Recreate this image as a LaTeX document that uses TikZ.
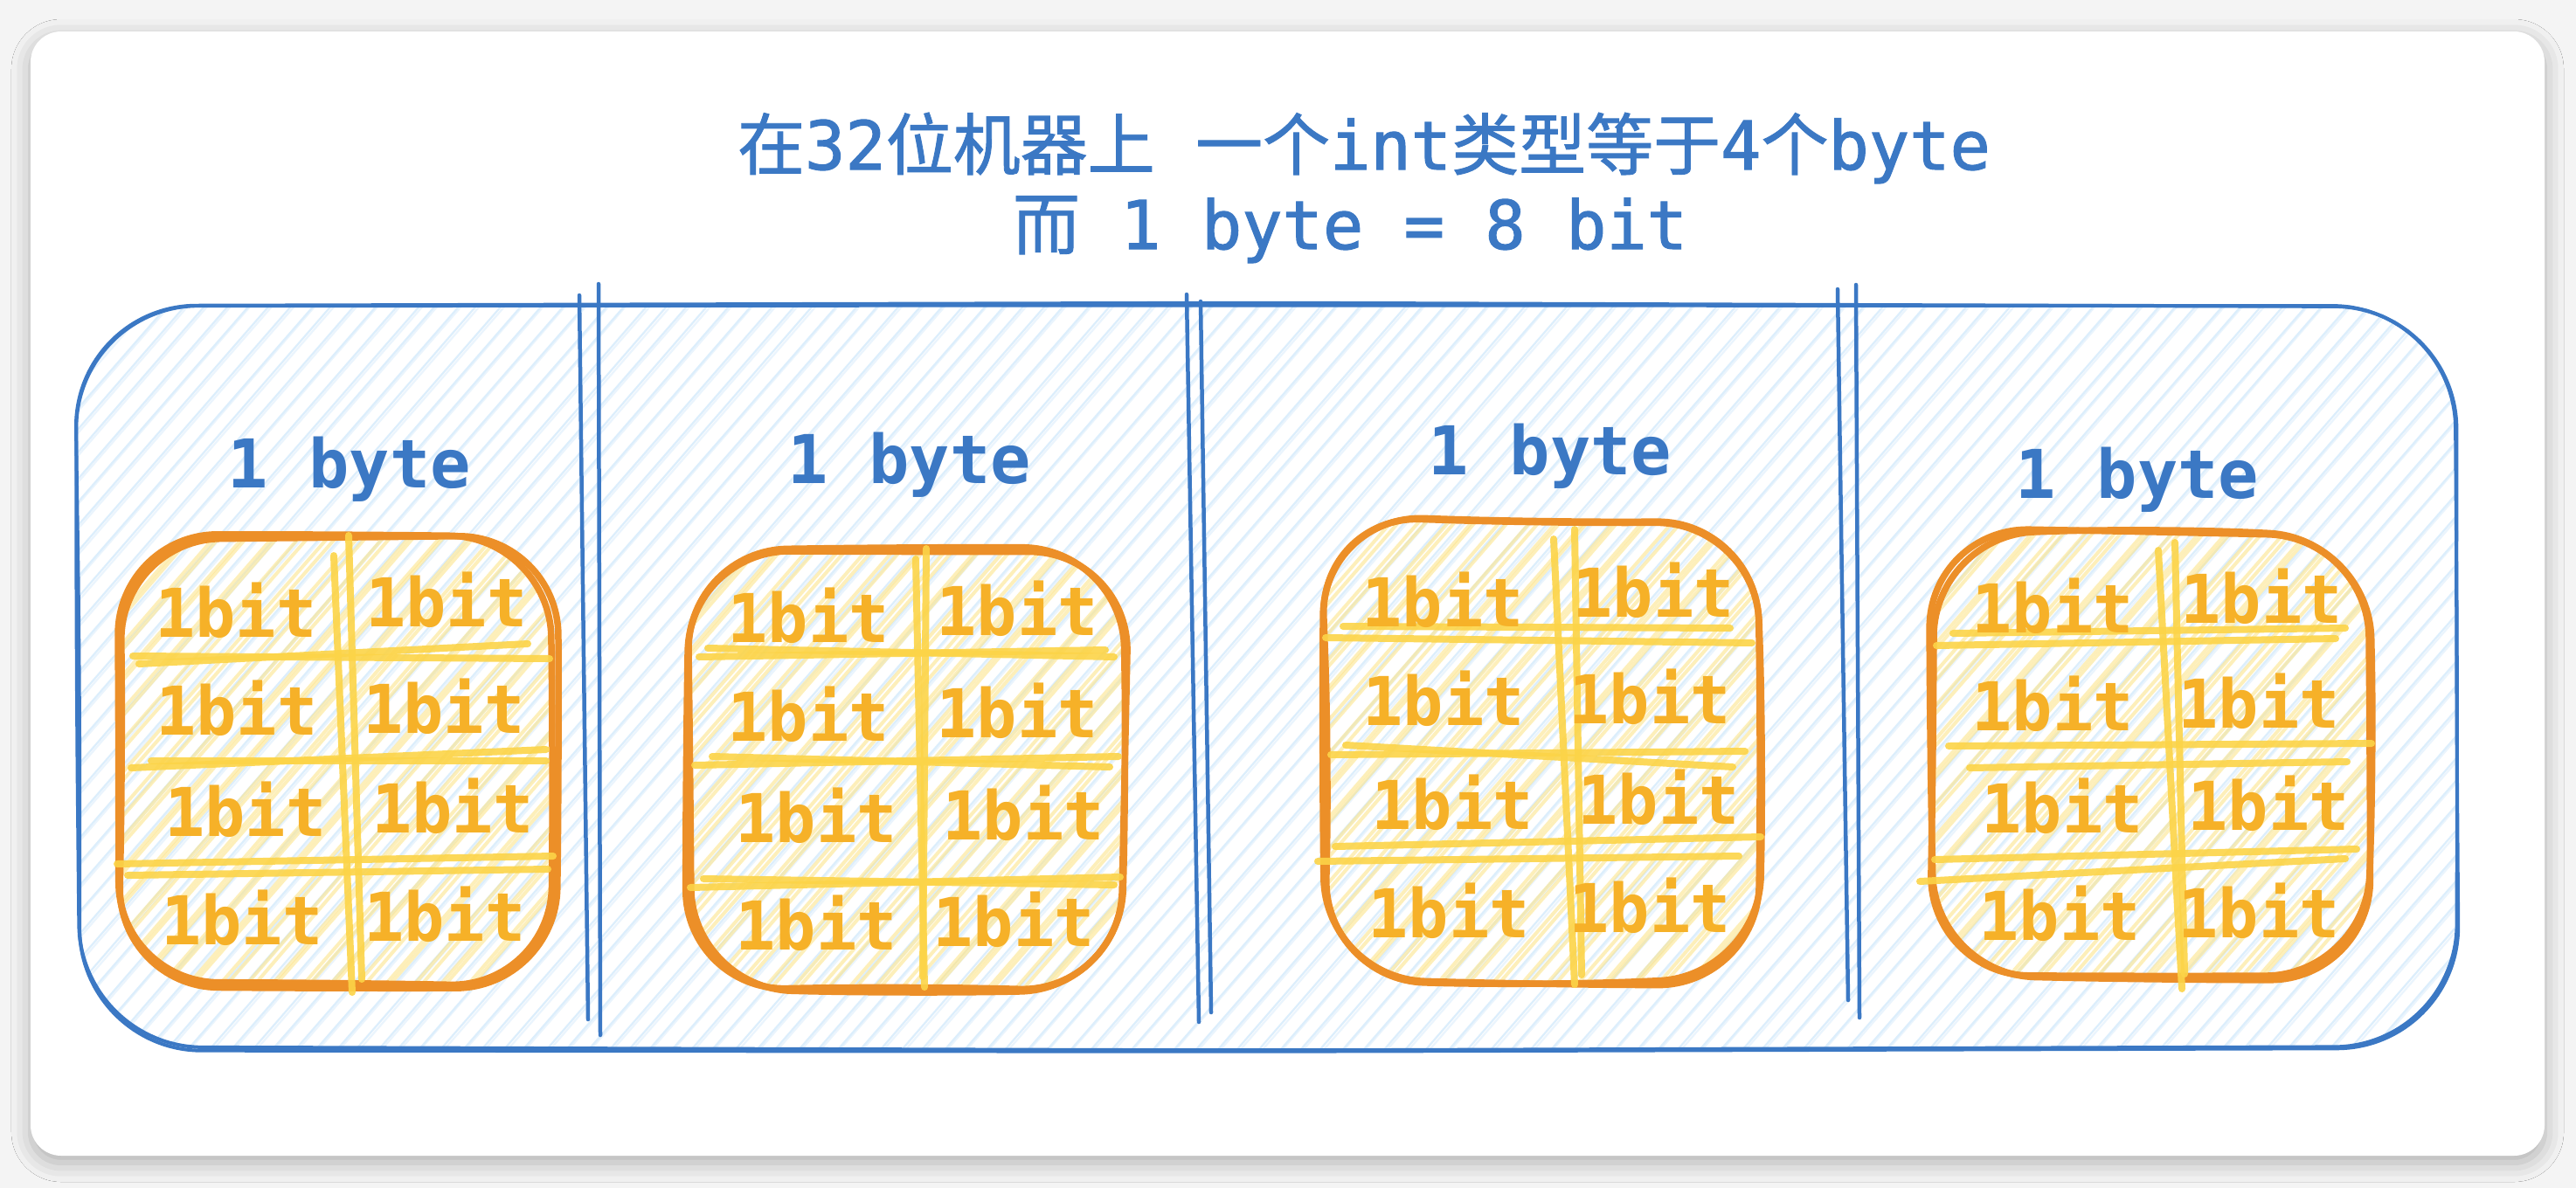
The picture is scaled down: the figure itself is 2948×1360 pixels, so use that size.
\documentclass[tikz,border=0pt]{standalone}
\usepackage{fontspec}
\usetikzlibrary{shadows.blur}
\newfontfamily\monoF{DejaVu Sans Mono}
\newfontfamily\monoT[FakeBold=1.5]{DejaVu Sans Mono}
\newfontfamily\cjkF[FakeBold=1.2]{Noto Sans CJK SC}
\definecolor{bgG}{HTML}{F4F4F4}
\definecolor{lineB}{HTML}{3B78C4}
\definecolor{hatchB}{HTML}{DCEEFC}
\definecolor{orangeO}{HTML}{EC8F28}
\definecolor{gridY}{HTML}{FCD448}
\definecolor{hatchY}{HTML}{FDE58C}
\definecolor{bitT}{HTML}{F6B128}
\tikzset{
  bluestroke/.style={draw=lineB, line width=4pt, line cap=round, line join=round},
  bhatch/.style={draw=hatchB, line width=2.2pt},
  orangestroke/.style={draw=orangeO, line width=7.5pt, line cap=round, line join=round},
  yhatch/.style={draw=hatchY, line width=4pt, line cap=round, opacity=.6},
  gridline/.style={draw=gridY, line width=8pt, line cap=round, opacity=.9},
  divider/.style={draw=lineB, line width=4.5pt, line cap=round},
  bittext/.style={text=bitT, font=\monoF\bfseries\fontsize{77}{80}\selectfont, inner sep=0pt},
  bytetext/.style={text=lineB, font=\monoF\bfseries\fontsize{77}{80}\selectfont, inner sep=0pt, anchor=base},
  titletext/.style={text=lineB, font=\fontsize{77}{90}\selectfont, inner sep=0pt, anchor=base},
}
% sketchy rounded rectangle: #1 style, #2 x1, #3 y1, #4 x2, #5 y2, #6 radius, #7 jitter
\newcommand\skrect[7]{%
  \foreach \k in {1,2}{%
    \pgfmathsetmacro\ja{#7*rand}\pgfmathsetmacro\jb{#7*rand}%
    \pgfmathsetmacro\jc{#7*rand}\pgfmathsetmacro\jd{#7*rand}%
    \pgfmathsetmacro\je{#7*rand}\pgfmathsetmacro\jf{#7*rand}%
    \pgfmathsetmacro\jg{#7*rand}\pgfmathsetmacro\jh{#7*rand}%
    \pgfmathsetmacro\ji{#7*rand}\pgfmathsetmacro\jj{#7*rand}%
    \pgfmathsetmacro\jk{#7*rand}\pgfmathsetmacro\jl{#7*rand}%
    \pgfmathsetmacro\jm{#7*rand}\pgfmathsetmacro\jn{#7*rand}%
    \pgfmathsetmacro\jo{#7*rand}\pgfmathsetmacro\jp{#7*rand}%
    \path[#1, rounded corners=#6pt]
      ({(#2+#4)/2+\ja},{#3+\jb}) -- ({#4+\jc},{#3+\jd}) -- ({#4+\je},{(#3+#5)/2+\jf})
      -- ({#4+\jg},{#5+\jh}) -- ({(#2+#4)/2+\ji},{#5+\jj}) -- ({#2+\jk},{#5+\jl})
      -- ({#2+\jm},{(#3+#5)/2+\jn}) -- ({#2+\jo},{#3+\jp}) -- cycle;
  }%
}
% hachure: #1 style, #2 x1, #3 y1, #4 x2, #5 y2, #6 radius, #7 gap, #8 offset of second stroke
\newcommand\hachure[8]{%
  \begin{scope}
    \clip[rounded corners=#6pt] (#2,#3) rectangle (#4,#5);
    \pgfmathsetmacro\hh{#5-#3+40}%
    \pgfmathsetmacro\dd{\hh/1.15}%
    \pgfmathtruncatemacro\nn{(#4-#2+\dd)/#7+1}%
    \foreach \i in {0,...,\nn}{%
      \pgfmathsetmacro\xa{#2-\dd+#7*\i+2*rand}%
      \pgfmathsetmacro\xb{\xa+\dd+3*rand}%
      \draw[#1] (\xa,{#5+20}) -- (\xb,{#3-20});
      \pgfmathsetmacro\xc{\xa+#8*(1+0.5*rand)}%
      \pgfmathsetmacro\xd{\xb+#8*(1+0.5*rand)}%
      \draw[#1, opacity=.6] (\xc,{#5+20}) -- (\xd,{#3-20});
    }%
  \end{scope}%
}
\begin{document}
\begin{tikzpicture}[x=1pt,y=-1pt]
\pgfmathsetseed{11}
\useasboundingbox (0,0) rectangle (2948,1360);
\fill[bgG] (0,0) rectangle (2948,1360);
% card
\fill[white, rounded corners=35pt,
  blur shadow={shadow blur radius=22pt, shadow xshift=0pt, shadow yshift=-8pt, shadow opacity=28}]
  (35,36) rectangle (2912,1323);

% big box: hachure + outline
\hachure{bhatch}{88}{348}{2812}{1200}{140}{24}{3}
\skrect{bluestroke}{88}{348}{2812}{1200}{140}{4}

% dividers
\draw[divider] (663,338) -- (673,1167);
\draw[divider] (685,325) -- (687,1185);
\draw[divider] (1358,337) -- (1372,1170);
\draw[divider] (1374,345) -- (1386,1159);
\draw[divider] (2103,331) -- (2115,1145);
\draw[divider] (2124,326) -- (2128,1165);

% orange boxes
\hachure{yhatch}{136}{615}{634}{1128}{115}{32}{7}
\hachure{yhatch}{786}{626}{1287}{1132}{115}{32}{7}
\hachure{yhatch}{1515}{595}{2012}{1123}{115}{32}{7}
\hachure{yhatch}{2213}{610}{2713}{1121}{115}{32}{7}
\skrect{orangestroke}{136}{615}{634}{1128}{115}{6}
\skrect{orangestroke}{786}{626}{1287}{1132}{115}{6}
\skrect{orangestroke}{1515}{595}{2012}{1123}{115}{6}
\skrect{orangestroke}{2213}{610}{2713}{1121}{115}{6}

% grid lines box 1
\draw[gridline] (382,636) -- (403,1136);
\draw[gridline] (399,613) -- (414,1121);
\draw[gridline] (152,751) -- (629,754);
\draw[gridline] (159,760) -- (604,737);
\draw[gridline] (150,879) -- (625,858);
\draw[gridline] (173,871) -- (625,871);
\draw[gridline] (134,989) -- (633,980);
\draw[gridline] (146,1002) -- (627,995);
% grid lines box 2
\draw[gridline] (1048,640) -- (1058,1130);
\draw[gridline] (1060,628) -- (1056,1118);
\draw[gridline] (800,752) -- (1265,744);
\draw[gridline] (810,742) -- (1275,752);
\draw[gridline] (795,876) -- (1280,866);
\draw[gridline] (815,866) -- (1270,878);
\draw[gridline] (790,1016) -- (1282,1004);
\draw[gridline] (805,1006) -- (1275,1013);
% grid lines box 3
\draw[gridline] (1778,617) -- (1802,1127);
\draw[gridline] (1802,606) -- (1810,1116);
\draw[gridline] (1537,717) -- (1980,719);
\draw[gridline] (1517,730) -- (2005,736);
\draw[gridline] (1540,853) -- (1983,878);
\draw[gridline] (1523,864) -- (1997,860);
\draw[gridline] (1528,969) -- (2015,958);
\draw[gridline] (1508,986) -- (1990,980);
% grid lines box 4
\draw[gridline] (2470,630) -- (2497,1132);
\draw[gridline] (2489,621) -- (2500,1115);
\draw[gridline] (2235,725) -- (2684,719);
\draw[gridline] (2216,739) -- (2673,731);
\draw[gridline] (2230,854) -- (2714,851);
\draw[gridline] (2254,879) -- (2686,872);
\draw[gridline] (2214,984) -- (2697,972);
\draw[gridline] (2197,1009) -- (2684,983);

% 1bit texts
\node[bittext] (b11) at (270,699) {1bit};
\node[bittext] (b12) at (511,687) {1bit};
\node[bittext] (b13) at (271,811) {1bit};
\node[bittext] (b14) at (508,809) {1bit};
\node[bittext] (b15) at (281,927) {1bit};
\node[bittext] (b16) at (518,923) {1bit};
\node[bittext] (b17) at (277,1051) {1bit};
\node[bittext] (b18) at (509,1047) {1bit};

\node[bittext] (b21) at (925,705) {1bit};
\node[bittext] (b22) at (1164,697) {1bit};
\node[bittext] (b23) at (925,818) {1bit};
\node[bittext] (b24) at (1164,814) {1bit};
\node[bittext] (b25) at (934,934) {1bit};
\node[bittext] (b26) at (1171,931) {1bit};
\node[bittext] (b27) at (934,1057) {1bit};
\node[bittext] (b28) at (1160,1053) {1bit};

\node[bittext] (b31) at (1651,687) {1bit};
\node[bittext] (b32) at (1892,676) {1bit};
\node[bittext] (b33) at (1652,800) {1bit};
\node[bittext] (b34) at (1888,798) {1bit};
\node[bittext] (b35) at (1662,919) {1bit};
\node[bittext] (b36) at (1898,913) {1bit};
\node[bittext] (b37) at (1658,1043) {1bit};
\node[bittext] (b38) at (1888,1037) {1bit};

\node[bittext] (b41) at (2349,694) {1bit};
\node[bittext] (b42) at (2588,683) {1bit};
\node[bittext] (b43) at (2349,806) {1bit};
\node[bittext] (b44) at (2585,803) {1bit};
\node[bittext] (b45) at (2360,923) {1bit};
\node[bittext] (b46) at (2596,920) {1bit};
\node[bittext] (b47) at (2357,1046) {1bit};
\node[bittext] (b48) at (2585,1043) {1bit};

% byte labels
\node[bytetext] (byte1) at (400,558) {1 byte};
\node[bytetext] (byte2) at (1041,553) {1 byte};
\node[bytetext] (byte3) at (1774,543) {1 byte};
\node[bytetext] (byte4) at (2446,570) {1 byte};

% title
\node[titletext] (title1) at (1561,194) {\cjkF 在\monoT 32\cjkF 位机器上\monoT\ \cjkF 一个\monoT int\cjkF 类型等于\monoT 4\cjkF 个\monoT byte};
\node[titletext] (title2) at (1545,285) {\cjkF 而\monoT\ 1 byte = 8 bit};
\end{tikzpicture}
\end{document}
